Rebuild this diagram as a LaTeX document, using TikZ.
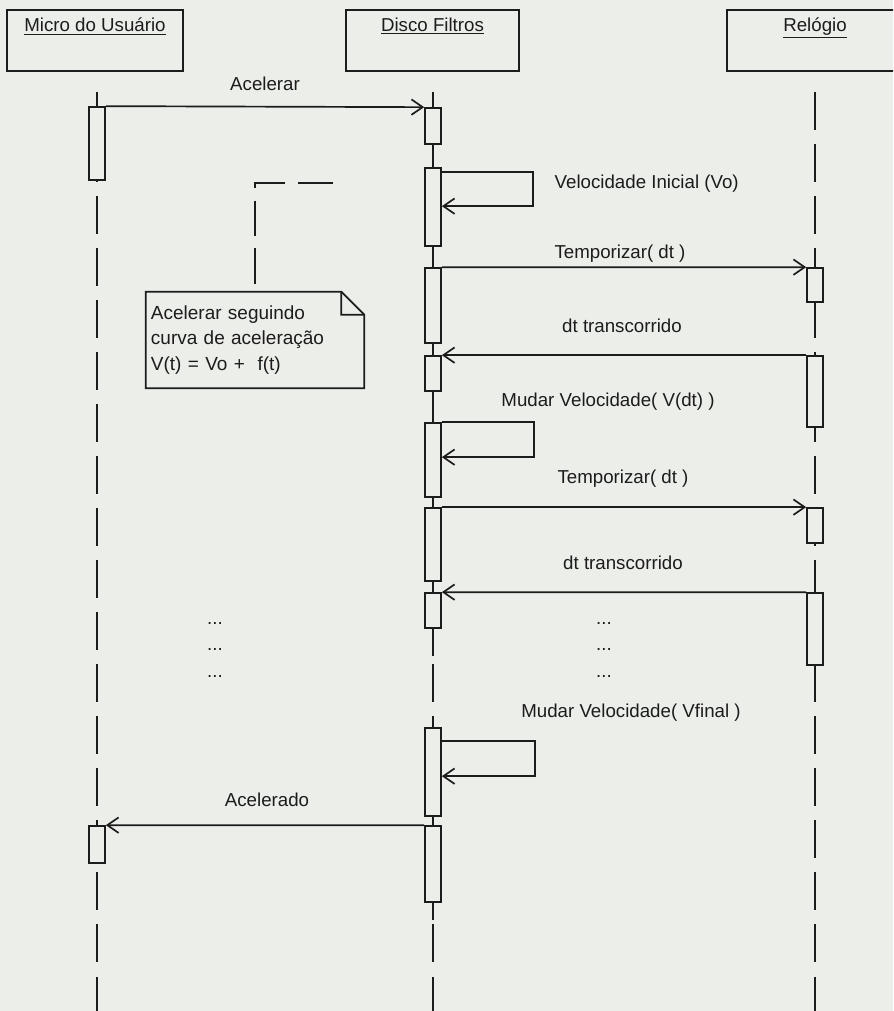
\documentclass[tikz,border=0pt]{standalone}
\usepackage{fontspec}
\setmainfont{Liberation Sans}
\usetikzlibrary{arrows.meta,calc,fit,positioning}
\definecolor{cPaper}{HTML}{ECEEEA}
\definecolor{cInk}{HTML}{1C1C1C}

\begin{document}
\begin{tikzpicture}[x=0.025cm,y=-0.025cm,
   >={Straight Barb[length=8pt,width=11pt]},
   font=\fontsize{13.3}{16}\selectfont,
   lane/.style={line width=1.2pt,cInk},
   life/.style={lane,dash pattern=on 27pt off 10pt},
   head/.style={draw,lane,fill=cPaper,inner sep=0pt},
   act/.style={draw,lane,fill=cPaper,inner sep=0pt},
   msg/.style={lane,->},
   lbl/.style={inner sep=1pt,text=cInk}]
  \path[use as bounding box,fill=cPaper] (0,0) rectangle (893,1011);
  \clip (0,0) rectangle (893,1011);
  % objects
  \node[head,fit={(7,10) (183,71)},
        label={[lbl,anchor=north,yshift=-5pt]north:\underline{Micro do Usuário}}] (micro) {};
  \node[head,fit={(346,10) (519,71)},
        label={[lbl,anchor=north,yshift=-5pt]north:\underline{Disco Filtros}}] (disco) {};
  \node[head,fit={(727,10) (903,71)},
        label={[lbl,anchor=north,yshift=-5pt]north:\underline{Relógio}}] (relogio) {};
  % lifelines
  \coordinate (mTop) at (97,92);  \coordinate (mEnd) at (97,1011);
  \coordinate (dTop) at (433,92); \coordinate (dEnd) at (433,1011);
  \coordinate (rTop) at (815,92); \coordinate (rEnd) at (815,1011);
  \coordinate (dMid) at (433,656); \coordinate (dLow) at (433,920);
  \draw[life] (mTop) -- (mEnd);
  \draw[life] (dTop) -- (dEnd);
  \draw[life] (rTop) -- (rEnd);
  \draw[lane] (dTop) -- (dMid);
  \draw[lane] (433,816) -- (dLow);
  % activations
  \foreach \n/\x/\a/\b in {m1/97/107/180, m2/97/826/863,
      d1/433/108/144, d2/433/168/246, d3/433/268/343, d4/433/356/391,
      d5/433/423/497, d6/433/508/581, d7/433/593/628, d8/433/728/816,
      d9/433/826/902,
      r1/815/268/302, r2/815/356/427, r3/815/508/543, r4/815/593/665}
    {\node[act,fit={(\x-8,\a) (\x+8,\b)}] (\n) {};}
  % messages
  \draw[msg] (m1.north east) -- (d1.north west);
  \node[lbl] (tAcel) at (265,84) {Acelerar};
  \draw[msg] ($(d2.north east)+(0,5)$) -- ++(91,0) |- ($(d2.north east)+(0,39)$);
  \node[lbl,anchor=west] (tVini) at (553,184) {Velocidade Inicial (Vo)};
  \draw[msg] (d3.north east) -- (r1.north west);
  \node[lbl] (tTemp1) at (620,254) {Temporizar( dt )};
  \draw[msg] (r2.north west) -- (d4.north east);
  \node[lbl] (tDt1) at (622,326) {dt transcorrido};
  \node[lbl] (tMud1) at (608,402) {Mudar Velocidade( V(dt) )};
  \draw[msg] (d5.north east) -- ++(92,0) |- ($(d5.north east)+(0,35)$);
  \draw[msg] (d6.north east) -- (r3.north west);
  \node[lbl] (tTemp2) at (623,479) {Temporizar( dt )};
  \draw[msg] (r4.north west) -- (d7.north east);
  \node[lbl] (tDt2) at (623,563) {dt transcorrido};
  \node[lbl] (tMud2) at (631,713) {Mudar Velocidade( Vfinal )};
  \draw[msg] ($(d8.north east)+(0,14)$) -- ++(93,0) |- ($(d8.north east)+(0,49)$);
  \draw[msg] (d9.north west) -- (m2.north east);
  \node[lbl] (tAcdo) at (267,800) {Acelerado};
  % ellipsis
  \foreach \y [count=\i] in {623,649,676}{
    \node[lbl] (dotL\i) at (215,\y) {...};
    \node[lbl] (dotR\i) at (604,\y) {...};}
  % note
  \node[lbl,font=\fontsize{13.5}{18}\selectfont,align=left,text width=5.2cm,
        minimum width=5.45cm,minimum height=2.4cm,inner sep=3pt] (note) at (255,340)
       {Acelerar seguindo\\curva de aceleração\\V(t) = Vo +~ f(t)};
  \draw[lane] (note.north west) -- ([xshift=-0.575cm]note.north east)
     -- ([yshift=-0.575cm]note.north east) -- (note.south east)
     -- (note.south west) -- cycle;
  \draw[lane] ([xshift=-0.575cm]note.north east) -- ++(0,23)
     -- ([yshift=-0.575cm]note.north east);
  \coordinate (noteEnd) at (333,183);
  \draw[lane,dash pattern=on 25pt off 9pt] (noteEnd) -| (note.north);
\end{tikzpicture}
\end{document}
